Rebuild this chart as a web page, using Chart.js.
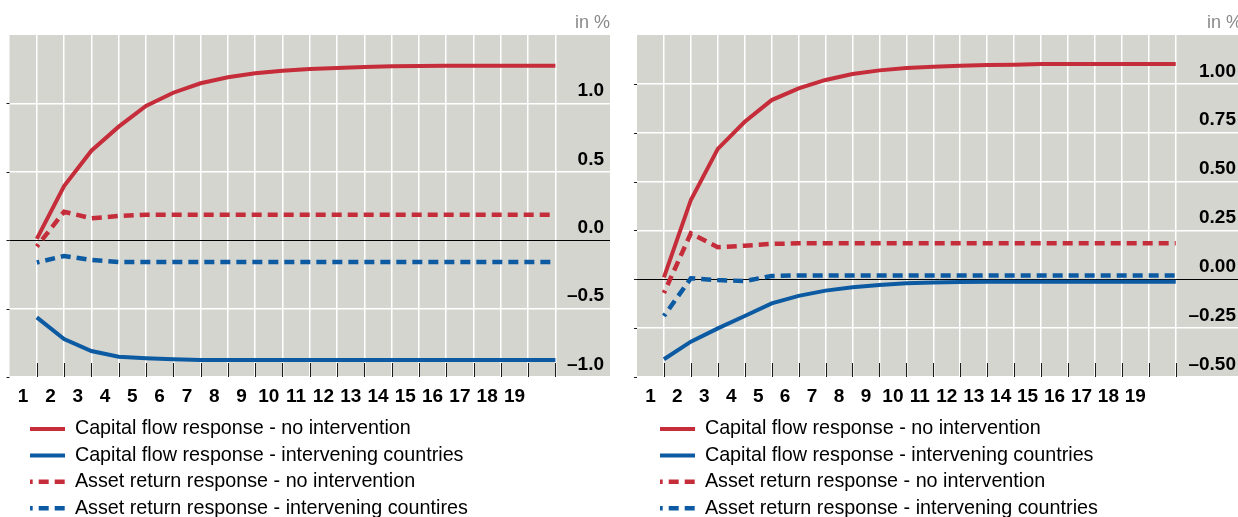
<!DOCTYPE html>
<html>
<head>
<meta charset="utf-8">
<script src="https://cdn.jsdelivr.net/npm/chart.js@4.4.1/dist/chart.umd.min.js"></script>
<style>
  html, body { margin: 0; padding: 0; background: #fff; width: 1238px; height: 517px; overflow: hidden; }
  .panel { position: absolute; top: 0; height: 517px; }
  #panelA { left: 0; width: 620px; }
  #panelB { left: 628px; width: 620px; }
</style>
</head>
<body>
<div class="panel" id="panelA"><canvas id="chartA"></canvas></div>
<div class="panel" id="panelB"><canvas id="chartB"></canvas></div>
<script>
// Horizon (periods after the shock) and the labels printed under the axis
const periods = [1, 2, 3, 4, 5, 6, 7, 8, 9, 10, 11, 12, 13, 14, 15, 16, 17, 18, 19, 20];
const periodLabels = ['1', '2', '3', '4', '5', '6', '7', '8', '9', '10', '11', '12', '13', '14', '15', '16', '17', '18', '19'];

// Left panel
const leftCapitalNoIntervention = [0.01, 0.396, 0.654, 0.83, 0.981, 1.078, 1.147, 1.191, 1.22, 1.239, 1.251, 1.259, 1.266, 1.271, 1.274, 1.275, 1.275, 1.275, 1.275, 1.275];
const leftCapitalIntervening = [-0.564, -0.722, -0.81, -0.852, -0.863, -0.871, -0.876, -0.876, -0.876, -0.876, -0.876, -0.876, -0.876, -0.876, -0.876, -0.876, -0.876, -0.876, -0.876, -0.876];
const leftAssetNoIntervention = [-0.046, 0.208, 0.16, 0.177, 0.186, 0.186, 0.186, 0.186, 0.186, 0.186, 0.186, 0.186, 0.186, 0.186, 0.186, 0.186, 0.186, 0.186, 0.186, 0.186];
const leftAssetIntervening = [-0.163, -0.115, -0.145, -0.159, -0.159, -0.159, -0.159, -0.159, -0.159, -0.159, -0.159, -0.159, -0.159, -0.159, -0.159, -0.159, -0.159, -0.159, -0.159, -0.159];
const leftTickValues = [-1, -0.5, 0, 0.5, 1];
const leftTickLabels = ['\u20131.0', '\u20130.5', '0.0', '0.5', '1.0'];

// Right panel
const rightCapitalNoIntervention = [0.01, 0.406, 0.667, 0.806, 0.917, 0.977, 1.02, 1.05, 1.069, 1.081, 1.088, 1.093, 1.097, 1.098, 1.101, 1.102, 1.102, 1.102, 1.102, 1.102];
const rightCapitalIntervening = [-0.409, -0.319, -0.251, -0.188, -0.123, -0.085, -0.058, -0.041, -0.029, -0.02, -0.017, -0.014, -0.012, -0.012, -0.012, -0.012, -0.012, -0.012, -0.012, -0.012];
const rightAssetNoIntervention = [-0.07, 0.235, 0.164, 0.172, 0.181, 0.184, 0.184, 0.184, 0.184, 0.184, 0.184, 0.184, 0.184, 0.184, 0.184, 0.184, 0.184, 0.184, 0.184, 0.184];
const rightAssetIntervening = [-0.188, 0.005, -0.004, -0.009, 0.017, 0.02, 0.02, 0.02, 0.02, 0.02, 0.02, 0.02, 0.02, 0.02, 0.02, 0.02, 0.02, 0.02, 0.02, 0.02];
const rightTickValues = [-0.5, -0.25, 0, 0.25, 0.5, 0.75, 1];
const rightTickLabels = ['\u20130.50', '\u20130.25', '0.00', '0.25', '0.50', '0.75', '1.00'];

const RED = '#c52d3a';
const BLUE = '#0c5aa2';
const FONT = "'Liberation Sans', Arial, Helvetica, sans-serif";

// Grey plot background, inward tick marks on the time axis and short stubs on the left edge
const panelDecor = {
  id: 'panelDecor',
  beforeDraw(chart, args, opts) {
    const { ctx, chartArea: a } = chart;
    ctx.save();
    ctx.fillStyle = opts.background;
    ctx.fillRect(a.left, a.top, a.right - a.left, a.bottom - a.top);
    ctx.restore();
  },
  beforeDatasetsDraw(chart, args, opts) {
    const { ctx, chartArea: a, scales } = chart;
    ctx.save();
    ctx.strokeStyle = '#1a1a1a';
    ctx.lineWidth = 1;
    ctx.beginPath();
    scales.x.ticks.forEach(t => {
      const px = Math.round(scales.x.getPixelForValue(t.value)) + 0.5;
      ctx.moveTo(px, a.bottom);
      ctx.lineTo(px, a.bottom - opts.tickLength);
    });
    scales.y.ticks.forEach(t => {
      const py = Math.round(scales.y.getPixelForValue(t.value)) + 0.5;
      ctx.moveTo(a.left - opts.stubLength, py);
      ctx.lineTo(a.left, py);
    });
    ctx.stroke();
    ctx.restore();
  }
};

// Places the legend block under the axis labels
const legendPlace = {
  id: 'legendPlace',
  afterLayout(chart, args, opts) {
    const lg = chart.legend;
    if (!lg) return;
    const w = lg.right - lg.left;
    lg.left = opts.left; lg.right = opts.left + w;
    lg.top = opts.top; lg.bottom = chart.height;
  }
};

// Legend samples drawn as short lines carrying each series' own dash pattern
function lineLegendLabels(chart) {
  const items = Chart.defaults.plugins.legend.labels.generateLabels(chart);
  items.forEach(item => {
    const ds = chart.data.datasets[item.datasetIndex];
    item.lineDash = ds.borderDash;
    item.lineDashOffset = ds.borderDashOffset;
    item.lineWidth = ds.borderWidth;
    item.strokeStyle = ds.borderColor;
    item.pointStyle = 'line';
  });
  return items;
}

function lineSet(label, values, color, dashed) {
  return {
    label,
    data: values,
    borderColor: color,
    backgroundColor: color,
    borderWidth: dashed ? 4.5 : 4,
    borderDash: dashed ? [10, 6] : [],
    borderDashOffset: dashed ? 7.3 : 0,
    pointRadius: 0,
    tension: 0,
    fill: false
  };
}

function buildPanel(canvasId, cfg) {
  return new Chart(document.getElementById(canvasId), {
    type: 'line',
    data: {
      labels: periods,
      datasets: [
        lineSet('Capital flow response - no intervention', cfg.capNo, RED, false),
        lineSet('Capital flow response - intervening countries', cfg.capInt, BLUE, false),
        lineSet('Asset return response - no intervention', cfg.assetNo, RED, true),
        lineSet(cfg.assetIntLabel, cfg.assetInt, BLUE, true)
      ]
    },
    options: {
      responsive: true,
      maintainAspectRatio: false,
      animation: false,
      devicePixelRatio: 1,
      font: { family: FONT },
      layout: { padding: { left: cfg.padLeft, right: cfg.padRight, top: 0, bottom: 0 } },
      scales: {
        x: {
          type: 'linear', position: 'bottom', min: 0, max: cfg.xMax,
          afterBuildTicks: s => { s.ticks = periods.map(v => ({ value: v })); },
          grid: { color: '#ffffff', lineWidth: 1.5, drawTicks: false },
          border: { display: false },
          ticks: { display: false }
        },
        xl: {
          type: 'linear', position: 'bottom', min: 0, max: cfg.xMax, weight: 1,
          afterBuildTicks: s => { s.ticks = periodLabels.map((l, i) => ({ value: i + 0.5 })); },
          grid: { display: false, drawTicks: false },
          border: { display: false },
          ticks: {
            autoSkip: false, maxRotation: 0, minRotation: 0, padding: 8.6,
            color: '#000', font: { family: FONT, size: 19, weight: 'bold' },
            callback: (v, i) => periodLabels[i]
          }
        },
        y: {
          type: 'linear', position: 'right', min: cfg.yMin, max: cfg.yMax,
          afterBuildTicks: s => { s.ticks = cfg.tickValues.map(v => ({ value: v })); },
          grid: {
            color: c => (c.tick && c.tick.value === 0) ? '#000000' : '#ffffff',
            lineWidth: c => (c.tick && c.tick.value === 0) ? 1 : 1.5,
            drawTicks: true, tickLength: 12, tickColor: 'rgba(0,0,0,0)'
          },
          border: { display: false },
          ticks: {
            mirror: true, padding: -6, labelOffset: -12.5, autoSkip: false,
            color: '#000', font: { family: FONT, size: 19, weight: 'bold' },
            callback: (v, i) => cfg.tickLabels[i]
          }
        }
      },
      plugins: {
        legend: {
          position: 'bottom', align: 'start', maxHeight: cfg.legendMaxHeight,
          labels: {
            usePointStyle: true, pointStyle: 'line', pointStyleWidth: 35, padding: 6.65,
            color: '#000', font: { family: FONT, size: 19.75 },
            generateLabels: lineLegendLabels
          }
        },
        title: {
          display: true, text: 'in %', align: 'end', color: '#8a8a8a',
          font: { family: FONT, size: 18, weight: 'normal' },
          padding: { top: 12.2, bottom: 1.2 }
        },
        tooltip: { enabled: false },
        panelDecor: { background: '#d5d5d0', tickLength: 14, stubLength: 3 },
        legendPlace: { left: cfg.legendLeft, top: 412.5 }
      }
    },
    plugins: [panelDecor, legendPlace]
  });
}

buildPanel('chartA', {
  capNo: leftCapitalNoIntervention, capInt: leftCapitalIntervening,
  assetNo: leftAssetNoIntervention, assetInt: leftAssetIntervening,
  assetIntLabel: 'Asset return response - intervening countires',
  tickValues: leftTickValues, tickLabels: leftTickLabels,
  yMin: -1, yMax: 1.5, xMax: 22,
  padLeft: 9.5, padRight: 10, legendLeft: 23.35, legendMaxHeight: 100
});

buildPanel('chartB', {
  capNo: rightCapitalNoIntervention, capInt: rightCapitalIntervening,
  assetNo: rightAssetNoIntervention, assetInt: rightAssetIntervening,
  assetIntLabel: 'Asset return response - intervening countries',
  tickValues: rightTickValues, tickLabels: rightTickLabels,
  yMin: -0.5, yMax: 1.25, xMax: 22.46,
  padLeft: 9, padRight: 6, legendLeft: 25.35, legendMaxHeight: 100
});
</script>
</body>
</html>
